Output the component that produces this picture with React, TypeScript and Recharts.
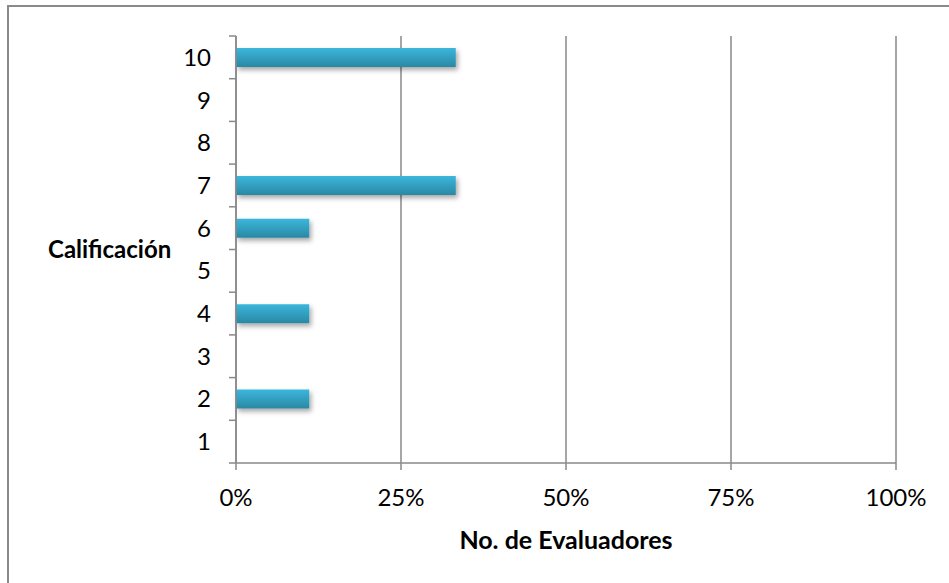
import React from "react";
import { BarChart, Bar, XAxis, YAxis, CartesianGrid, Label } from "recharts";

const calificaciones = ["1", "2", "3", "4", "5", "6", "7", "8", "9", "10"];
const evaluadores = [0, 0.111, 0, 0.111, 0, 0.111, 0.333, 0, 0, 0.333];
const xTicks = [0, 0.25, 0.5, 0.75, 1];

const data = calificaciones.map((c, i) => ({ cal: c, val: evaluadores[i] }));

const axisColor = "#898989";
const font = "Lato, 'Open Sans', sans-serif";
const labelGap = 25;

// category label plus Excel-style tick marks on the band edges
const CatTick = (props: any) => {
  const { x, y, payload, index } = props;
  const half = payload && payload.offset ? payload.offset : 21.35;
  const ax = x + labelGap;
  return (
    <g>
      <line x1={ax - 7} x2={ax} y1={y - half} y2={y - half} stroke={axisColor} strokeWidth={1.5} />
      {index === 0 && <line x1={ax - 7} x2={ax} y1={y + half} y2={y + half} stroke={axisColor} strokeWidth={1.5} />}
      <text x={x} y={y} dy="0.355em" textAnchor="end" fill="#000" fontSize={24} fontFamily={font}>
        {payload.value}
      </text>
    </g>
  );
};

export default function App() {
  return (
    <div style={{ position: "absolute", left: 0, top: 0, width: 949, height: 583, overflow: "hidden", background: "#fff" }}>
      <div style={{ position: "absolute", left: 7, top: 5, width: 980, height: 620, border: "2px solid #8a8a8a" }} />
      <div style={{ position: "absolute", left: 0, top: 0 }}>
        <BarChart
          width={949}
          height={583}
          data={data}
          layout="vertical"
          margin={{ top: 36, right: 53, bottom: 0, left: 0 }}
          barSize={19}
        >
          <defs>
            <linearGradient id="barFill" x1="0" y1="0" x2="0" y2="1">
              <stop offset="0%" stopColor="#3bb6dc" />
              <stop offset="100%" stopColor="#2a88a3" />
            </linearGradient>
            <filter id="barShadow" x="-5%" y="-30%" width="115%" height="190%">
              <feDropShadow dx="2" dy="3" stdDeviation="2.5" floodColor="#000" floodOpacity="0.35" />
            </filter>
          </defs>
          <CartesianGrid horizontal={false} stroke={axisColor} strokeWidth={1.5} />
          <XAxis
            type="number"
            domain={[0, 1]}
            ticks={xTicks}
            tickFormatter={(v: number) => `${Math.round(v * 100)}%`}
            tick={{ fill: "#000", fontSize: 24, fontFamily: font }}
            tickSize={7}
            tickMargin={19}
            stroke={axisColor}
            strokeWidth={1.5}
            height={120}
          >
            <Label
              value="No. de Evaluadores"
              position="insideTop"
              offset={68}
              style={{ fontWeight: 700, fontSize: 25, fontFamily: font, fill: "#000" }}
            />
          </XAxis>
          <YAxis
            type="category"
            dataKey="cal"
            reversed
            width={236}
            tickLine={false}
            tickSize={0}
            tickMargin={labelGap}
            tick={CatTick}
            stroke={axisColor}
            strokeWidth={1.5}
          >
            <Label
              value="Calificación"
              position="insideLeft"
              offset={48}
              style={{ fontWeight: 700, fontSize: 24, fontFamily: font, fill: "#000", textAnchor: "start" }}
            />
          </YAxis>
          <Bar dataKey="val" fill="url(#barFill)" filter="url(#barShadow)" isAnimationActive={false} />
        </BarChart>
      </div>
    </div>
  );
}
